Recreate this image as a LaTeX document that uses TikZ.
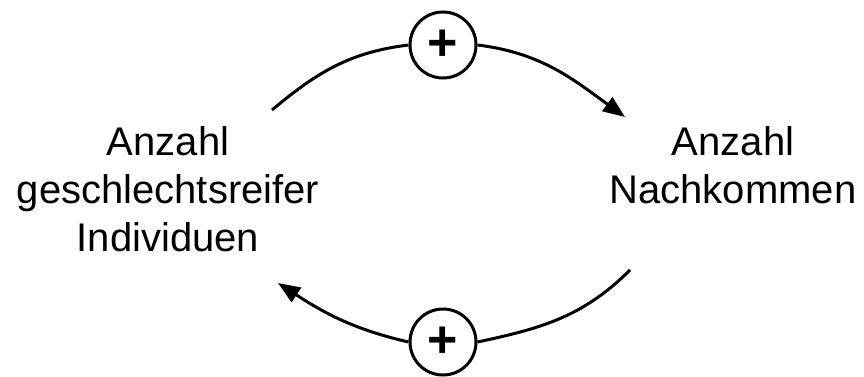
\documentclass[tikz,border=0pt]{standalone}
\usepackage{fontspec}
\setmainfont{Liberation Sans}
\usetikzlibrary{arrows.meta}
\begin{document}
\begin{tikzpicture}[x=1pt,y=1pt,
  lbl/.style={align=center, inner sep=0pt, font=\fontsize{40}{48}\selectfont},
  sign/.style={circle, draw, line width=3pt, minimum size=66pt, inner sep=0pt, fill=white, font=\bfseries\fontsize{52}{56}\selectfont},
  link/.style={line width=3pt, -{Triangle[length=22pt,width=17pt]}},
  plain/.style={line width=3pt}]
\useasboundingbox (0,0) rectangle (864,376);
\node[lbl] (ind) at (168,187) {Anzahl\\geschlechtsreifer\\Individuen};
\node[lbl] (nach) at (733,211) {Anzahl\\Nachkommen};
\node[sign] (p1) at (443,331) {+};
\node[sign] (p2) at (443,34) {+};
\coordinate (tl) at (272,266);
\coordinate (tr) at (625,259);
\coordinate (br) at (630,106);
\coordinate (bl) at (278,93);
\draw[plain] (tl) to[out=40,in=187] (p1.west);
\draw[link] (p1.east) to[out=-7,in=144] (tr);
\draw[plain] (br) to[out=225,in=12] (p2.east);
\draw[link] (p2.west) to[out=167,in=-33] (bl);
\end{tikzpicture}
\end{document}
